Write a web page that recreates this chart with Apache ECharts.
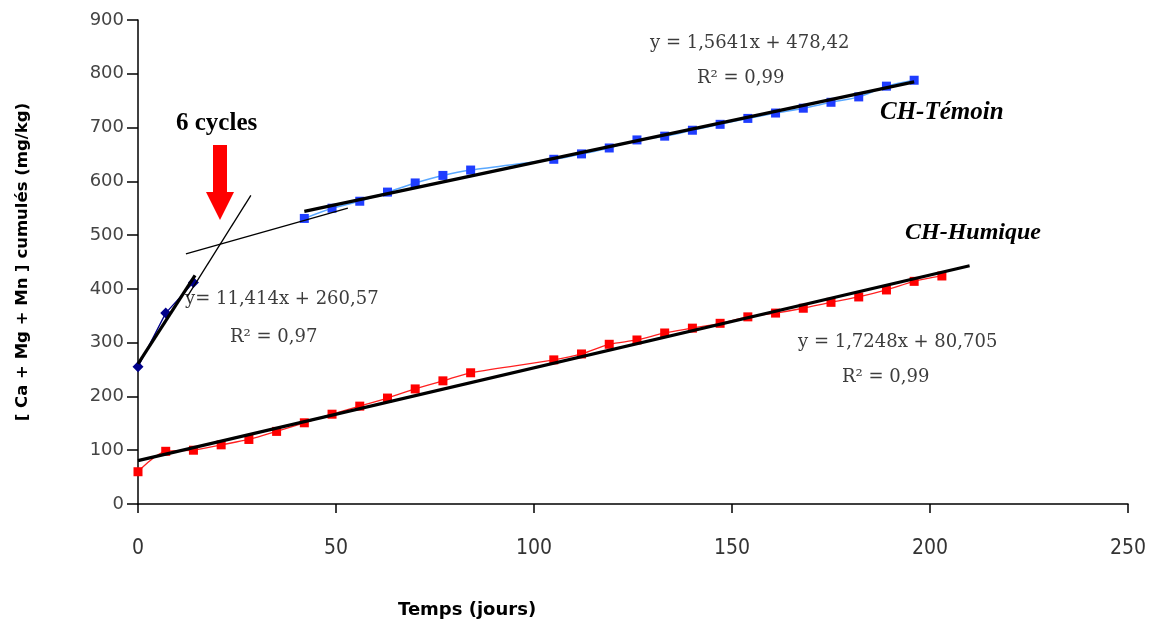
<!DOCTYPE html>
<html><head><meta charset="utf-8">
<script src="https://cdn.jsdelivr.net/npm/echarts@6/dist/echarts.min.js"></script>
<style>html,body{margin:0;padding:0;background:#fff}#c{width:1157px;height:630px}</style>
</head><body><div id="c"></div>
<script>
// --- data ---
const xTicks = [0, 50, 100, 150, 200, 250];
const yTicks = [0, 100, 200, 300, 400, 500, 600, 700, 800, 900];
// CH-Témoin, first phase (6 cycles)
const temoinEarlyX = [0, 7, 14];
const temoinEarlyY = [255, 355, 412];
// CH-Témoin, second phase
const temoinX = [42, 49, 56, 63, 70, 77, 84, 105, 112, 119, 126, 133, 140, 147, 154, 161, 168, 175, 182, 189, 196];
const temoinY = [531, 550, 563, 580, 597, 611, 621, 641, 651, 662, 677, 684, 695, 706, 717, 727, 736, 747, 757, 777, 788];
// CH-Humique
const humiqueX = [0, 7, 14, 21, 28, 35, 42, 49, 56, 63, 70, 77, 84, 105, 112, 119, 126, 133, 140, 147, 154, 161, 168, 175, 182, 189, 196, 203];
const humiqueY = [60, 98, 100, 110, 120, 135, 151, 167, 182, 197, 214, 229, 244, 268, 279, 297, 305, 318, 327, 336, 348, 355, 364, 375, 385, 398, 414, 424];
// regression lines as shown: [slope, intercept, xStart, xEnd]
const trendEarly = [11.414, 260.57, 0, 14.4];
const trendTemoin = [1.5641, 478.42, 42, 196];
const trendHumique = [1.7248, 80.705, 0, 210];
// hand-drawn construction lines (x,y pairs)
const guideSteep = [[12.4, 385], [28.5, 574]];
const guideFlat = [[12.1, 465], [53, 550]];

const zip = (xs, ys) => xs.map((x, i) => [x, ys[i]]);
const trend = t => [[t[2], t[0] * t[2] + t[1]], [t[3], t[0] * t[3] + t[1]]];

const chart = echarts.init(document.getElementById('c'), null, {renderer: 'canvas'});
const eqFont = '"DejaVu Serif", serif';
const eqColor = '#3c3c3c';
function txt(x, y, s) {
  return {type: 'text', left: x, top: y, style: {text: s, font: '18px ' + eqFont, fill: eqColor}};
}
chart.setOption({
  animation: false,
  backgroundColor: '#fff',
  grid: {left: 138, right: 29, top: 20, bottom: 126, containLabel: false},
  xAxis: {
    type: 'value', min: 0, max: 250, interval: 50,
    axisLine: {onZero: false, lineStyle: {color: '#000', width: 1.5}},
    axisTick: {show: true, inside: false, length: 9, lineStyle: {color: '#000', width: 1.5}},
    splitLine: {show: false},
    axisLabel: {margin: 34, color: '#333', fontFamily: '"DejaVu Sans Condensed","Liberation Sans Narrow",sans-serif', fontSize: 21}
  },
  yAxis: {
    type: 'value', min: 0, max: 900, interval: 100,
    name: '[ Ca + Mg + Mn ] cumulés (mg/kg)', nameLocation: 'middle', nameGap: 107,
    nameTextStyle: {fontFamily: '"DejaVu Sans", sans-serif', fontWeight: 'bold', fontSize: 16.5, color: '#000'},
    axisLine: {lineStyle: {color: '#000', width: 1.5}},
    axisTick: {show: true, length: 11, lineStyle: {color: '#000', width: 1.5}},
    splitLine: {show: false},
    axisLabel: {margin: 14, color: '#444', fontFamily: '"DejaVu Sans", sans-serif', fontSize: 18}
  },
  series: [
    {type: 'line', data: zip(humiqueX, humiqueY), smooth: 0.3, symbol: 'rect', symbolSize: 9,
      itemStyle: {color: '#ff0000'}, lineStyle: {color: '#ff2020', width: 1.3}, z: 3},
    {type: 'line', data: zip(temoinX, temoinY), smooth: 0.3, symbol: 'rect', symbolSize: 9,
      itemStyle: {color: '#1f3dff'}, lineStyle: {color: '#5aa8ff', width: 1.5}, z: 3},
    {type: 'line', data: zip(temoinEarlyX, temoinEarlyY), symbol: 'diamond', symbolSize: 11,
      itemStyle: {color: '#00008b'}, lineStyle: {color: '#00008b', width: 1.3}, z: 3},
    {type: 'line', data: trend(trendHumique), symbol: 'none', lineStyle: {color: '#000', width: 3.2}, z: 5},
    {type: 'line', data: trend(trendTemoin), symbol: 'none', lineStyle: {color: '#000', width: 3.2}, z: 5},
    {type: 'line', data: trend(trendEarly), symbol: 'none', lineStyle: {color: '#000', width: 3.2}, z: 5},
    {type: 'line', data: guideSteep, symbol: 'none', lineStyle: {color: '#000', width: 1.3}, z: 5},
    {type: 'line', data: guideFlat, symbol: 'none', lineStyle: {color: '#000', width: 1.3}, z: 5}
  ],
  graphic: [
    {type: 'polygon', shape: {points: [[213,145],[227,145],[227,192],[234,192],[220,220],[206,192],[213,192]]}, style: {fill: '#ff0000'}},
    {type: 'text', left: 176, top: 111, style: {text: '6 cycles', font: 'bold 25px "Liberation Serif", serif', fill: '#000'}},
    {type: 'text', left: 880, top: 100, style: {text: 'CH-Témoin', font: 'italic bold 25px "Liberation Serif", serif', fill: '#000'}},
    {type: 'text', left: 905, top: 221, style: {text: 'CH-Humique', font: 'italic bold 24px "Liberation Serif", serif', fill: '#000'}},
    txt(650, 34, 'y = 1,5641x + 478,42'),
    txt(697, 69, 'R² = 0,99'),
    txt(185, 290, 'y= 11,414x + 260,57'),
    txt(230, 328, 'R² = 0,97'),
    txt(798, 333, 'y = 1,7248x + 80,705'),
    txt(842, 368, 'R² = 0,99'),
    {type: 'text', left: 398, top: 601, style: {text: 'Temps (jours)', font: 'bold 18px "DejaVu Sans", sans-serif', fill: '#000'}}
  ]
});
</script></body></html>
